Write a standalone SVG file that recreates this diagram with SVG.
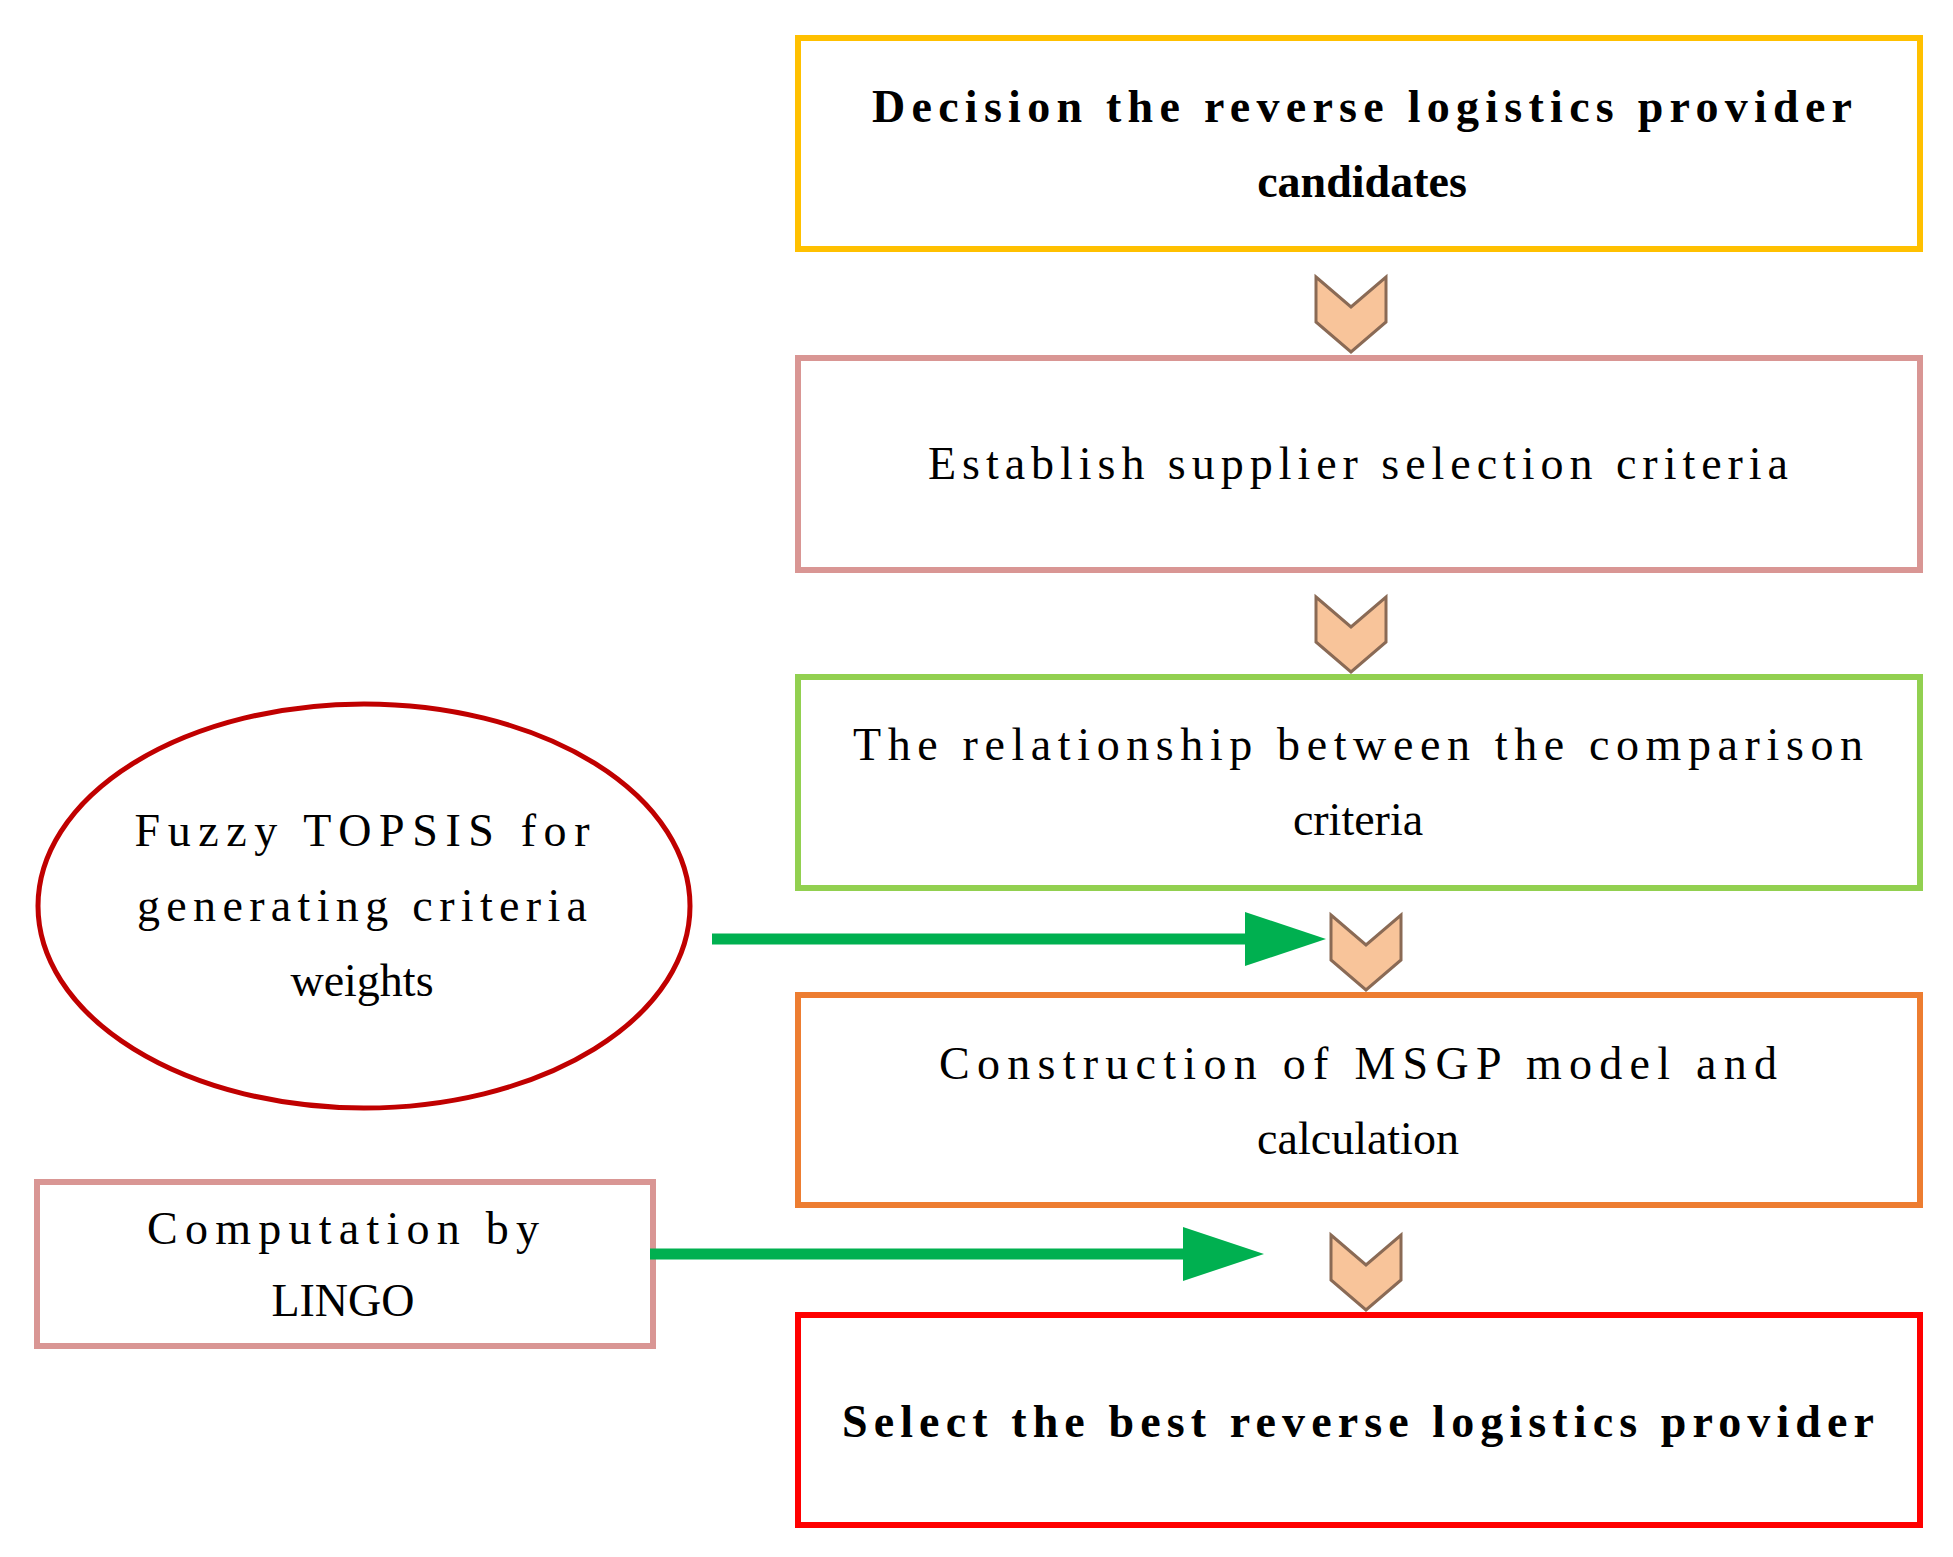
<svg xmlns="http://www.w3.org/2000/svg" width="1953" height="1557" viewBox="0 0 1953 1557">
<defs>
<style>
.t{font-family:"Liberation Serif",serif;font-size:46px;fill:#000;text-anchor:middle}
.b{font-weight:bold}
.box{fill:#fff;stroke-width:6}
.chev{fill:#f8c49a;stroke:#8a6a55;stroke-width:3}
.ga{stroke:#00b050;stroke-width:11;fill:none}
</style>
<path id="chev" d="M-35,0 L0,30 L35,0 L35,45 L0,75 L-35,45 Z"/>
</defs>
<rect width="1953" height="1557" fill="#fff"/>
<g id="n1"><rect class="box" x="798" y="38" width="1122" height="211" stroke="#ffc000"/>
<text class="t b" x="1362" y="122" textLength="980">Decision the reverse logistics provider</text>
<text class="t b" x="1362" y="197">candidates</text></g>
<g id="n2"><rect class="box" x="798" y="358" width="1122" height="212" stroke="#d99694" stroke-width="8"/>
<text class="t" x="1358" y="479" textLength="860">Establish supplier selection criteria</text></g>
<g id="n3"><rect class="box" x="798" y="677" width="1122" height="211" stroke="#92d050"/>
<text class="t" x="1358" y="760" textLength="1010">The relationship between the comparison</text>
<text class="t" x="1358" y="835">criteria</text></g>
<g id="n4"><rect class="box" x="798" y="995" width="1122" height="210" stroke="#ed7d31"/>
<text class="t" x="1358" y="1079" textLength="838">Construction of MSGP model and</text>
<text class="t" x="1358" y="1154">calculation</text></g>
<g id="n5"><rect class="box" x="798" y="1315" width="1122" height="210" stroke="#ff0000"/>
<text class="t b" x="1358" y="1437" textLength="1032">Select the best reverse logistics provider</text></g>
<g id="n6"><ellipse cx="364" cy="906" rx="326" ry="202" fill="#fff" stroke="#c00000" stroke-width="5"/>
<text class="t" x="362" y="846" textLength="455">Fuzzy TOPSIS for</text>
<text class="t" x="362" y="921" textLength="450">generating criteria</text>
<text class="t" x="362" y="996">weights</text></g>
<g id="n7"><rect class="box" x="37" y="1182" width="616" height="164" stroke="#d99694" stroke-width="8"/>
<text class="t" x="343" y="1244" textLength="392">Computation by</text>
<text class="t" x="343" y="1316">LINGO</text></g>
<g id="connectors">
<use href="#chev" class="chev" x="1351" y="277"/>
<use href="#chev" class="chev" x="1351" y="597"/>
<use href="#chev" class="chev" x="1366" y="915"/>
<use href="#chev" class="chev" x="1366" y="1235"/>
<line class="ga" x1="712" y1="939" x2="1250" y2="939"/>
<polygon points="1245,912 1326,939 1245,966" fill="#00b050"/>
<line class="ga" x1="650" y1="1254" x2="1190" y2="1254"/>
<polygon points="1183,1227 1264,1254 1183,1281" fill="#00b050"/>
</g>
</svg>
